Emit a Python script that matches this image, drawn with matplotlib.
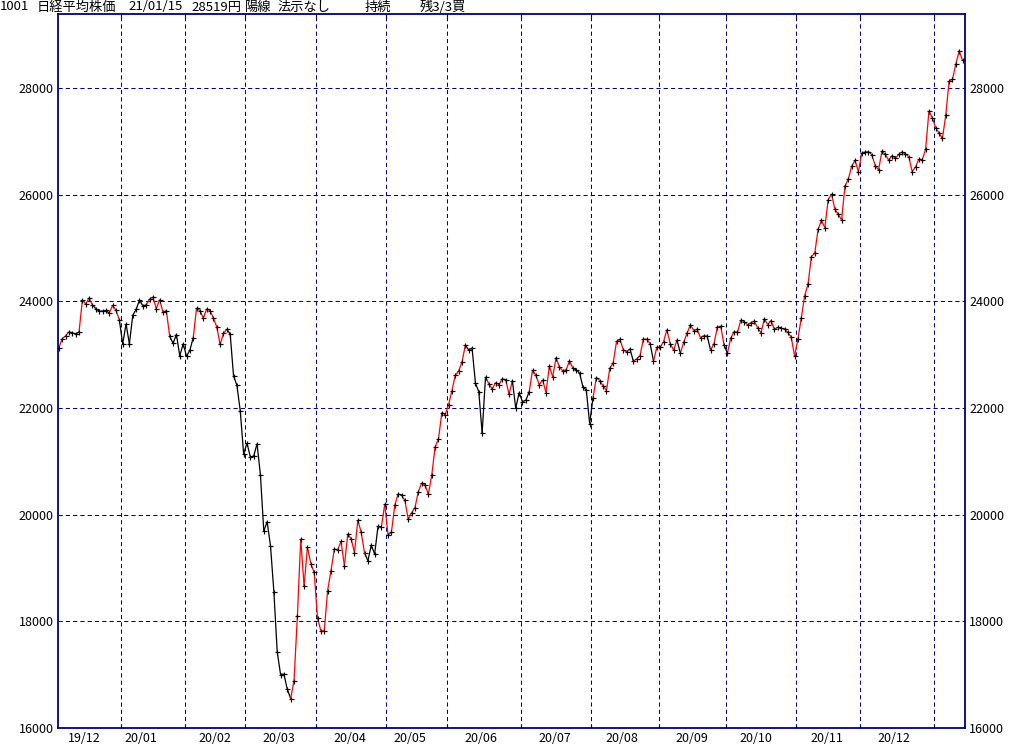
import matplotlib
matplotlib.use("Agg")
import matplotlib.pyplot as plt
from matplotlib.collections import LineCollection
import matplotlib.transforms as mtransforms
import numpy as np

plt.rcParams['font.family'] = ['Noto Sans CJK JP', 'DejaVu Sans']

# ---------------- data ----------------
trading_days = {
    "2019-12": [4, 5, 6, 9, 10, 11, 12, 13, 16, 17, 18, 19, 20, 23, 24, 25, 26, 27, 30],
    "2020-01": [6, 7, 8, 9, 10, 14, 15, 16, 17, 20, 21, 22, 23, 24, 27, 28, 29, 30, 31],
    "2020-02": [3, 4, 5, 6, 7, 10, 12, 13, 14, 17, 18, 19, 20, 21, 25, 26, 27, 28],
    "2020-03": [2, 3, 4, 5, 6, 9, 10, 11, 12, 13, 16, 17, 18, 19, 23, 24, 25, 26, 27, 30, 31],
    "2020-04": [1, 2, 3, 6, 7, 8, 9, 10, 13, 14, 15, 16, 17, 20, 21, 22, 23, 24, 27, 28, 30],
    "2020-05": [1, 7, 8, 11, 12, 13, 14, 15, 18, 19, 20, 21, 22, 25, 26, 27, 28, 29],
    "2020-06": [1, 2, 3, 4, 5, 8, 9, 10, 11, 12, 15, 16, 17, 18, 19, 22, 23, 24, 25, 26, 29, 30],
    "2020-07": [1, 2, 3, 6, 7, 8, 9, 10, 13, 14, 15, 16, 17, 20, 21, 22, 27, 28, 29, 30, 31],
    "2020-08": [3, 4, 5, 6, 7, 11, 12, 13, 14, 17, 18, 19, 20, 21, 24, 25, 26, 27, 28, 31],
    "2020-09": [1, 2, 3, 4, 7, 8, 9, 10, 11, 14, 15, 16, 17, 18, 23, 24, 25, 28, 29, 30],
    "2020-10": [2, 5, 6, 7, 8, 9, 12, 13, 14, 15, 16, 19, 20, 21, 22, 23, 26, 27, 28, 29, 30],
    "2020-11": [2, 4, 5, 6, 9, 10, 11, 12, 13, 16, 17, 18, 19, 20, 24, 25, 26, 27, 30],
    "2020-12": [1, 2, 3, 4, 7, 8, 9, 10, 11, 14, 15, 16, 17, 18, 21, 22, 23, 24, 25, 28, 29, 30],
    "2021-01": [4, 5, 6, 7, 8, 12, 13, 14, 15],
}

closes = [
    # 2019-12
    23135, 23300, 23354, 23430, 23410, 23391, 23424, 24023, 23952, 24066,
    23934, 23864, 23816, 23821, 23830, 23782, 23924, 23837, 23656,
    # 2020-01
    23204, 23575, 23204, 23739, 23850, 24025, 23916, 23933, 24041, 24083,
    23864, 24031, 23795, 23827, 23343, 23216, 23379, 22977, 23205,
    # 2020-02
    22972, 23084, 23320, 23873, 23828, 23685, 23861, 23827, 23688, 23523,
    23194, 23400, 23479, 23386, 22605, 22426, 21948, 21142,
    # 2020-03
    21344, 21082, 21100, 21329, 20749, 19698, 19867, 19416, 18559, 17431,
    17002, 17011, 16726, 16552, 16887, 18092, 19546, 18665, 19389, 19084, 18917,
    # 2020-04
    18065, 17819, 17820, 18576, 18950, 19353, 19345, 19498, 19043, 19639,
    19550, 19290, 19897, 19669, 19281, 19137, 19429, 19262, 19783, 19771, 20193,
    # 2020-05
    19619, 19674, 20179, 20390, 20366, 20267, 19914, 20037, 20133, 20433,
    20595, 20552, 20388, 20741, 21271, 21419, 21916, 21877,
    # 2020-06
    22062, 22325, 22613, 22695, 22863, 23178, 23091, 23124, 22472, 22305,
    21530, 22582, 22455, 22355, 22478, 22437, 22549, 22534, 22260, 22512, 21995, 22288,
    # 2020-07
    22122, 22145, 22306, 22714, 22614, 22438, 22529, 22291, 22784, 22587,
    22945, 22770, 22696, 22717, 22884, 22751, 22715, 22657, 22397, 22339, 21710,
    # 2020-08
    22195, 22573, 22514, 22418, 22329, 22750, 22843, 23249, 23289, 23096,
    23051, 23110, 22880, 22920, 22985, 23296, 23290, 23208, 22882, 23139,
    # 2020-09
    23138, 23247, 23465, 23205, 23089, 23274, 23032, 23235, 23406, 23559,
    23454, 23475, 23319, 23360, 23346, 23087, 23204, 23511, 23539, 23185,
    # 2020-10
    23029, 23312, 23433, 23422, 23647, 23619, 23558, 23601, 23626, 23507,
    23410, 23671, 23567, 23639, 23474, 23516, 23494, 23485, 23418, 23331, 22977,
    # 2020-11
    23295, 23695, 24105, 24325, 24839, 24905, 25349, 25520, 25385, 25906,
    26014, 25728, 25634, 25527, 26165, 26296, 26537, 26644, 26433,
    # 2020-12
    26787, 26800, 26809, 26751, 26547, 26467, 26817, 26756, 26652, 26732,
    26687, 26757, 26806, 26763, 26714, 26436, 26524, 26668, 26656, 26854, 27568, 27444,
    # 2021-01
    27258, 27158, 27056, 27490, 28139, 28164, 28456, 28698, 28519,
]

# periods (inclusive) in which the line is drawn black (no position)
black_spans = [
    ("2019-12-10", "2019-12-12"),
    ("2019-12-19", "2019-12-25"),
    ("2020-01-06", "2020-01-16"),
    ("2020-01-28", "2020-02-05"),
    ("2020-02-21", "2020-03-19"),
    ("2020-04-22", "2020-04-28"),
    ("2020-06-09", "2020-06-16"),
    ("2020-06-29", "2020-07-03"),
    ("2020-07-27", "2020-08-03"),
    ("2020-08-20", "2020-08-20"),
    ("2020-08-28", "2020-08-28"),
    ("2020-09-09", "2020-09-09"),
    ("2020-09-24", "2020-09-24"),
    ("2020-10-02", "2020-10-02"),
]

month_labels = ["19/12", "20/01", "20/02", "20/03", "20/04", "20/05", "20/06",
                "20/07", "20/08", "20/09", "20/10", "20/11", "20/12"]
y_ticks = [16000, 18000, 20000, 22000, 24000, 26000, 28000]

title_parts = [("1001", 0), ("日経平均株価", 37), ("21/01/15", 128), ("28519円", 191),
               ("陽線", 245), ("法示なし", 278), ("持続", 365), ("残3/3買", 420)]

# ---------------- derived ----------------
dates = []
month_of = []
for ym, days in trading_days.items():
    for d in days:
        dates.append(f"{ym}-{d:02d}")
        month_of.append(ym)
closes = np.array(closes, dtype=float)
n = len(closes)
x = np.arange(n)

def is_black(ds):
    return any(a <= ds <= b for a, b in black_spans)

seg_colors = ['black' if is_black(dates[i]) else '#ff0000' for i in range(1, n)]
segments = [[(x[i - 1], closes[i - 1]), (x[i], closes[i])] for i in range(1, n)]

months = list(trading_days.keys())
month_start_idx = []
label_idx = []
for ym in months[:-1]:
    idxs = [i for i in range(n) if month_of[i] == ym]
    month_start_idx.append(idxs[0])
    mid = [i for i in idxs if int(dates[i][-2:]) >= 15]
    label_idx.append(mid[0] if mid else idxs[len(idxs) // 2])
jan21 = [i for i in range(n) if month_of[i] == "2021-01"][0]
grid_x = [i - 0.5 for i in month_start_idx[1:]] + [jan21 - 0.5]

# ---------------- plot ----------------
W, H = 1024, 745
fig = plt.figure(figsize=(W / 100, H / 100), dpi=100)
fig.patch.set_facecolor('white')
ax = fig.add_axes([58 / W, 1 - 728 / H, (965 - 58) / W, (728 - 14) / H])

navy = '#000080'
px = 3.3595
x0 = 58.85
ax.set_xlim(-(x0 - 58) / px, (965 - x0) / px)
ax.set_ylim(16000, 29390)

for gx in grid_x:
    ax.axvline(gx, color=navy, lw=0.75, ls=(0, (4, 3)), zorder=1)
for yt in y_ticks:
    ax.axhline(yt, color=navy, lw=0.75, ls=(0, (4, 3)), zorder=1)

lc = LineCollection(segments, colors=seg_colors, linewidths=0.9, zorder=2)
ax.add_collection(lc)
ax.plot(x, closes, ls='none', marker='+', ms=3.6, mew=0.85, color='black', zorder=3)

for s in ax.spines.values():
    s.set_color(navy)
    s.set_linewidth(1.3)

ax.set_xticks(grid_x)
ax.set_xticklabels([])
ax.tick_params(axis='x', direction='in', length=3, width=0.8, color=navy,
               top=True, bottom=True)
ax.set_yticks(y_ticks)
ax.set_yticklabels([str(v) for v in y_ticks])
ax.tick_params(axis='y', length=0, labelsize=9, pad=3, left=True, right=True,
               labelleft=True, labelright=True, labelcolor='black')

offset = mtransforms.ScaledTranslation(0, -4 / 100, fig.dpi_scale_trans)
for lab, li in zip(month_labels, label_idx):
    ax.text(li - 0.5, 16000, lab, transform=ax.transData + offset, ha='center', va='top',
            fontsize=9, color='black', clip_on=False)

for txt, xp in title_parts:
    fig.text(xp / W, 1 - 7 / H, txt, ha='left', va='center', fontsize=9.5, color='black')

fig.savefig('out.png', dpi=100, facecolor='white')
